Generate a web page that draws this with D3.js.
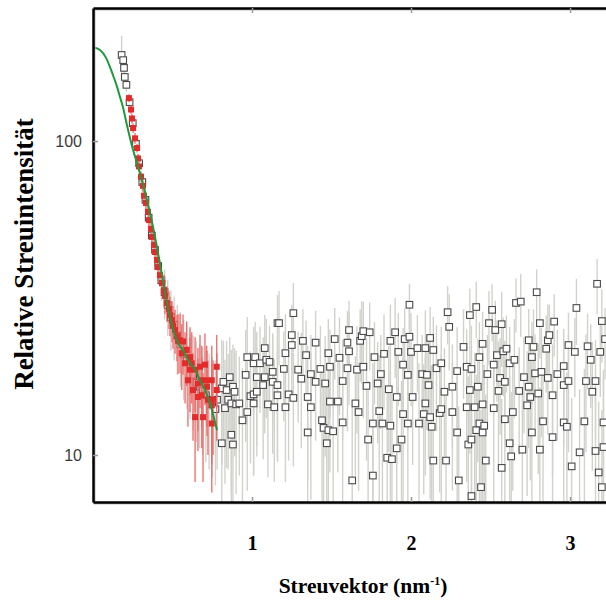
<!DOCTYPE html>
<html>
<head>
<meta charset="utf-8">
<script src="https://cdn.jsdelivr.net/npm/d3@7"></script>
<style>
  body { margin: 0; background: #fff; }
  .y-axis text { font-family: "Liberation Sans", Arial, sans-serif; font-size: 16px; fill: #3a3a3a; }
  .x-axis text { font-family: "Liberation Serif", "Times New Roman", serif; font-size: 20px; font-weight: bold; fill: #000; }
  .chart-label { font-family: "Liberation Serif", "Times New Roman", serif; font-weight: bold; fill: #000; }
</style>
</head>
<body>
<div id="chart"></div>
<script>
// axis ticks
const xTicks = [1, 2, 3];
const yTicks = [10, 100];

// gray data: [q (nm^-1), intensity, error]
const grayData = [
  [0.18,188,28],[0.19,181,12],[0.195,171,10],[0.20,160,9],[0.21,151,8],
  [0.23,133,7],[0.25,114,6],[0.27,98,5],[0.29,85,5],[0.31,74,5],[0.33,65,5],[0.35,57,5],
  [0.37,50,5],[0.39,45,5],[0.41,40,5],[0.43,36,5],[0.45,33,6],[0.47,30,6],[0.49,27.5,6],
  [0.51,26,6],[0.53,24,6],[0.55,22.5,6],[0.57,21,6],[0.59,20,6],[0.61,19,6],[0.63,18,6],
  [0.65,17,6],[0.67,16.5,6],[0.69,16,6],[0.71,15.5,6],[0.73,15,6],[0.75,14.5,6],[0.77,14,6],
  [0.78,15.0,6],[0.81,16.3,7],[0.81,10.9,5],[0.82,17.1,6],[0.83,14.1,6],[0.84,16.1,7],[0.85,15.0,6],
  [0.86,17.7,6],[0.87,14.6,7],[0.87,11.6,5],[0.88,10.8,5],[0.88,16.5,6],[0.89,15.9,6],[0.90,14.5,7],
  [0.92,14.6,6],[0.94,12.9,6],[0.96,18.0,7],[0.97,20.5,7],[0.97,13.7,6],[0.99,15.4,6],[1.01,19.6,6],
  [1.01,15.6,7],[1.01,14.6,6],[1.02,20.5,6],[1.03,17.7,7],[1.03,15.9,6],[1.05,19.6,6],[1.07,16.7,7],
  [1.08,17.7,6],[1.08,21.9,6],[1.09,20.1,7],[1.10,14.5,6],[1.11,19.8,6],[1.13,17.1,7],[1.13,18.4,6],
  [1.14,14.2,6],[1.16,26.3,6],[1.16,16.7,7],[1.16,15.5,6],[1.17,26.3,7],[1.20,18.8,6],[1.21,21.1,7],
  [1.21,14.2,6],[1.23,15.6,6],[1.25,22.4,7],[1.25,24.1,6],[1.26,15.2,6],[1.26,28.3,7],[1.29,18.7,6],
  [1.31,17.5,7],[1.32,23.1,6],[1.34,20.8,6],[1.35,15.3,7],[1.35,11.8,6],[1.37,18.1,6],[1.37,14.2,7],
  [1.40,22.8,6],[1.40,17.1,6],[1.43,18.8,7],[1.44,12.9,6],[1.45,12.2,6],[1.46,16.9,7],[1.47,10.9,6],
  [1.48,21.1,6],[1.48,12.0,7],[1.49,19.1,6],[1.49,14.8,6],[1.51,11.9,7],[1.52,23.4,6],[1.54,14.8,6],
  [1.55,20.4,7],[1.57,12.7,6],[1.57,17.2,6],[1.60,18.9,7],[1.60,22.8,6],[1.61,25.0,6],[1.61,21.4,7],
  [1.63,8.3,6],[1.65,14.6,6],[1.66,18.7,7],[1.67,13.7,6],[1.68,23.1,6],[1.69,23.9,7],[1.70,19.1,6],
  [1.70,24.8,6],[1.72,16.6,7],[1.73,11.2,6],[1.74,24.6,6],[1.76,8.6,6],[1.76,12.6,7],[1.77,20.5,6],
  [1.79,16.9,6],[1.80,13.8,7],[1.81,18.1,6],[1.82,12.6,6],[1.83,21.0,7],[1.85,9.8,6],[1.86,16.2,6],
  [1.87,23.1,7],[1.87,12.4,6],[1.88,9.7,6],[1.90,24.6,7],[1.91,15.3,6],[1.91,10.5,6],[1.92,21.3,7],
  [1.94,11.2,6],[1.95,19.4,6],[1.95,13.5,7],[1.96,23.4,6],[1.98,18.0,6],[1.98,12.6,7],[1.99,23.8,6],
  [1.99,30.1,5],[2.00,21.3,7],[2.01,15.3,6],[2.04,21.9,6],[2.05,12.6,7],[2.07,18.1,6],[2.08,13.5,6],
  [2.09,21.9,7],[2.09,14.6,6],[2.10,18.0,6],[2.11,16.7,7],[2.12,23.6,6],[2.12,13.2,6],[2.13,12.3,7],
  [2.14,21.6,6],[2.14,9.6,6],[2.16,18.9,7],[2.18,13.6,6],[2.19,19.6,6],[2.19,14.0,7],[2.21,15.9,6],
  [2.22,9.6,6],[2.23,28.5,6],[2.24,25.6,7],[2.26,16.5,6],[2.26,13.7,6],[2.29,18.5,7],[2.29,11.8,6],
  [2.30,8.3,6],[2.33,22.1,7],[2.35,19.1,6],[2.35,14.2,6],[2.36,10.8,7],[2.37,16.1,6],[2.37,27.9,6],
  [2.38,18.8,7],[2.38,11.2,6],[2.38,7.4,6],[2.40,14.2,7],[2.41,29.6,6],[2.41,12.0,6],[2.42,16.5,7],
  [2.43,12.6,6],[2.43,20.5,6],[2.44,7.9,6],[2.45,14.5,7],[2.45,22.6,6],[2.45,11.8,6],[2.46,12.4,7],
  [2.47,9.6,6],[2.48,18.1,6],[2.49,26.3,7],[2.51,29.0,6],[2.52,19.4,6],[2.52,14.1,7],[2.53,25.0,6],
  [2.54,20.8,6],[2.55,16.0,7],[2.56,17.6,6],[2.57,9.1,6],[2.57,26.1,7],[2.58,21.4,6],[2.59,17.1,6],
  [2.59,13.0,7],[2.60,21.8,6],[2.62,19.6,6],[2.62,10.9,7],[2.63,9.9,6],[2.64,13.7,6],[2.65,20.1,7],
  [2.66,30.5,6],[2.68,16.0,6],[2.69,30.8,7],[2.70,10.4,6],[2.71,17.7,6],[2.73,14.4,7],[2.74,23.2,6],
  [2.74,16.5,6],[2.75,15.3,7],[2.76,20.5,6],[2.76,11.8,6],[2.77,22.1,7],[2.78,18.2,6],[2.79,33.0,6],
  [2.80,15.7,7],[2.81,10.4,6],[2.81,26.3,6],[2.82,18.4,7],[2.83,12.8,6],[2.85,21.8,6],[2.86,23.2,7],
  [2.86,17.6,6],[2.87,24.1,6],[2.89,15.5,7],[2.89,11.4,6],[2.90,26.6,6],[2.92,18.1,7],[2.96,19.2,6],
  [2.96,16.7,6],[2.96,12.7,7],[2.98,12.3,6],[2.99,22.4,6],[2.99,17.2,7],[3.01,9.2,6],[3.03,21.3,6],
  [3.04,29.4,7],[3.06,10.2,6],[3.09,12.8,6],[3.10,17.2,7],[3.11,22.2,6],[3.13,20.1,6],[3.14,15.9,7],
  [3.16,17.2,6],[3.16,10.3,6],[3.17,35.1,7],[3.18,8.8,6],[3.19,21.3,6],[3.20,26.7,7],[3.20,7.9,6],
  [3.21,12.7,6],[3.21,10.6,7],[3.22,23.4,6]
];

// red data (fitted range): [q, intensity, error]
const redData = [
  [0.226,137,4],[0.239,126,4],[0.245,118,4],[0.252,110,4],[0.264,102,4],[0.277,95,3],[0.283,88,3],
  [0.289,83,3],[0.302,77,3],[0.314,72,3],[0.321,67,3],[0.333,63.5,3],[0.346,59.5,3],[0.352,56,3],
  [0.365,52.5,3],[0.371,49.5,3],[0.384,46.7,3],[0.39,44.3,3],[0.403,41.8,3],[0.409,39.7,3],
  [0.421,37.4,3],[0.434,35.3,3],[0.447,33.5,4],[0.453,32.1,4],[0.465,30.5,4],[0.478,29.2,4],
  [0.484,27.9,4],[0.497,26.9,4],[0.503,25.8,4],[0.516,25.0,4],[0.528,23.9,4],[0.535,23.1,5],
  [0.547,23.2,5],[0.558,21.1,5],[0.566,23.0,5],[0.579,19.6,5],[0.589,21.6,5],[0.597,17.3,5],
  [0.61,20.5,5],[0.61,18.7,5],[0.621,19.6,5],[0.629,16.1,5],[0.642,18.7,5],[0.642,13.2,5],
  [0.66,16.9,5],[0.66,15.3,5],[0.673,19.1,5],[0.684,15.5,5],[0.684,17.3,5],[0.692,13.2,5],
  [0.704,19.4,5],[0.715,17.3,5],[0.717,16.5,5],[0.723,15.0,5],[0.747,17.3,5],[0.747,14.4,5],
  [0.747,12.6,5],[0.755,15.0,5],[0.778,19.1,5],[0.778,16.1,5]
];

// model fit: [q, intensity]
const fitCurve = [
  [0,199],[0.044,195],[0.082,184],[0.107,172],[0.126,162],[0.151,149],[0.170,138],[0.189,128],
  [0.214,112],[0.233,102],[0.252,93.6],[0.277,85.1],[0.302,76.8],[0.340,64.9],[0.371,55.2],
  [0.403,45.6],[0.434,37.4],[0.465,30.5],[0.497,25.9],[0.528,23.2],[0.572,21.3],[0.610,19.6],
  [0.642,18.7],[0.673,17.3],[0.704,16.1],[0.736,14.6],[0.761,13.1],[0.780,12.0]
];

const MARGIN = { TOP: 8, BOTTOM: 101, LEFT: 93, RIGHT: 0 };
const WIDTH = 606 - MARGIN.LEFT - MARGIN.RIGHT;
const HEIGHT = 603 - MARGIN.TOP - MARGIN.BOTTOM;

const svg = d3.select("#chart")
  .append("svg")
    .attr("width", 606)
    .attr("height", 603)
  .append("g")
    .attr("transform", `translate(${MARGIN.LEFT}, ${MARGIN.TOP})`);

// scales
const x = d3.scaleLinear()
  .domain([0, 3.226])
  .range([0, WIDTH]);

const y = d3.scaleLog()
  .domain([7.085, 265.3])
  .range([HEIGHT, 0]);

svg.append("clipPath")
  .attr("id", "plot-clip")
  .append("rect")
    .attr("width", WIDTH)
    .attr("height", HEIGHT);

const plot = svg.append("g").attr("clip-path", "url(#plot-clip)");

const yLow = d => y(Math.max(d[1] - d[2], 1));

// gray error bars + squares
plot.append("g").selectAll("line")
  .data(grayData)
  .enter().append("line")
    .attr("x1", d => x(d[0]))
    .attr("x2", d => x(d[0]))
    .attr("y1", d => y(d[1] + d[2]))
    .attr("y2", yLow)
    .attr("stroke", "#d2d2cc")
    .attr("stroke-width", 1.4);

plot.append("g").selectAll("rect")
  .data(grayData)
  .enter().append("rect")
    .attr("x", d => x(d[0]) - 3.3)
    .attr("y", d => y(d[1]) - 3.3)
    .attr("width", 6.6)
    .attr("height", 6.6)
    .attr("fill", "#fff")
    .attr("stroke", "#4a4a4a")
    .attr("stroke-width", 1.1);

// red error bars + squares
plot.append("g").selectAll("line")
  .data(redData)
  .enter().append("line")
    .attr("x1", d => x(d[0]))
    .attr("x2", d => x(d[0]))
    .attr("y1", d => y(d[1] + d[2]))
    .attr("y2", yLow)
    .attr("stroke", "#ec6a6a")
    .attr("stroke-width", 1.3);

plot.append("g").selectAll("rect")
  .data(redData)
  .enter().append("rect")
    .attr("x", d => x(d[0]) - 3)
    .attr("y", d => y(d[1]) - 3)
    .attr("width", 6)
    .attr("height", 6)
    .attr("fill", "#e32b2b");

// fit line
const line = d3.line()
  .x(d => x(d[0]))
  .y(d => y(d[1]))
  .curve(d3.curveMonotoneX);

plot.append("path")
  .datum(fitCurve)
  .attr("d", line)
  .attr("fill", "none")
  .attr("stroke", "#1e9a3c")
  .attr("stroke-width", 2);

// frame shadow
svg.append("path")
  .attr("d", `M1.5,1.5 V${HEIGHT + 1.5} H${WIDTH} M1.5,1.5 H${WIDTH}`)
  .attr("fill", "none")
  .attr("stroke", "#bbb")
  .attr("stroke-width", 2);

// axes
const yAxisCall = d3.axisLeft(y)
  .tickValues(yTicks)
  .tickFormat(d3.format("d"))
  .tickSize(-5)
  .tickSizeOuter(0)
  .tickPadding(11);
svg.append("g")
  .attr("class", "y-axis")
  .call(yAxisCall);

const xAxisCall = d3.axisBottom(x)
  .tickValues(xTicks)
  .tickFormat(d3.format("d"))
  .tickSize(-5)
  .tickSizeOuter(0)
  .tickPadding(34);
svg.append("g")
  .attr("class", "x-axis")
  .attr("transform", `translate(0, ${HEIGHT})`)
  .call(xAxisCall);

const topAxisCall = d3.axisTop(x)
  .tickValues(xTicks)
  .tickFormat("")
  .tickSize(-5)
  .tickSizeOuter(0);
svg.append("g")
  .attr("class", "top-axis")
  .call(topAxisCall);

svg.selectAll(".domain")
  .attr("stroke", "#000")
  .attr("stroke-width", 2.5);
svg.selectAll(".tick line")
  .attr("stroke", "#999")
  .attr("stroke-width", 1.5);

// labels
const xLabel = svg.append("text")
  .attr("class", "chart-label")
  .attr("x", 270)
  .attr("y", 585)
  .attr("text-anchor", "middle")
  .style("font-size", "21.5px");
xLabel.append("tspan").text("Streuvektor (nm");
xLabel.append("tspan").attr("dy", -8).style("font-size", "12px").text("-1");
xLabel.append("tspan").attr("dy", 8).text(")");

svg.append("text")
  .attr("class", "chart-label")
  .attr("x", -(254 - MARGIN.TOP))
  .attr("y", 33 - MARGIN.LEFT)
  .attr("text-anchor", "middle")
  .attr("transform", "rotate(-90)")
  .style("font-size", "27px")
  .text("Relative Streuintensität");
</script>
</body>
</html>
